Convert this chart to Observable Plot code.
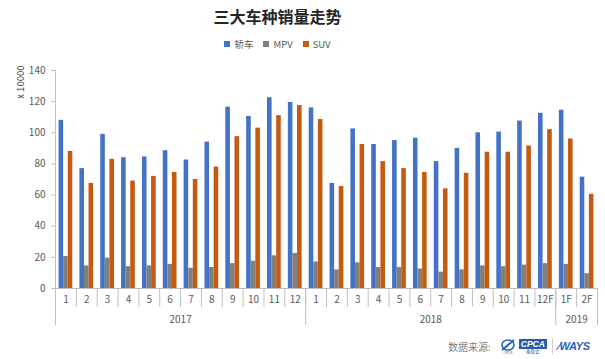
<!DOCTYPE html>
<html>
<head>
<meta charset="utf-8">
<script src="https://cdn.jsdelivr.net/npm/d3@7"></script>
<script src="https://cdn.jsdelivr.net/npm/@observablehq/plot@0.6"></script>
<style>
  body { margin:0; width:605px; height:359px; overflow:hidden; background:#fff; font-family:"Noto Sans CJK SC","Noto Sans",sans-serif; position:relative; }
  #title { height:34px; line-height:32px; text-align:center; font-size:16px; font-weight:bold; color:#262626; padding-right:50px; }
  #legend { height:20px; display:flex; justify-content:center; align-items:center; gap:10px; font-size:9.5px; color:#595959; padding-right:50px; }
  #legend span.sw { display:inline-block; width:6px; height:6px; margin-right:4px; vertical-align:middle; }
  #legend .item { display:flex; align-items:center; }
  #chart svg { display:block; }
  #footer { position:absolute; left:448px; top:337px; height:18px; display:flex; align-items:center; font-size:10px; color:#7f7f7f; }
</style>
</head>
<body>
<div id="title">三大车种销量走势</div>
<div id="legend"></div>
<div id="chart"></div>
<div id="footer">
  <span>数据来源:</span>
  <svg width="18" height="16" style="margin-left:8px" viewBox="0 0 18 16">
    <ellipse cx="9" cy="7" rx="6" ry="5" fill="none" stroke="#2a63b8" stroke-width="1.6"/>
    <path d="M3 12 L15 2" stroke="#2a63b8" stroke-width="2"/>
    <text x="9" y="15.5" font-size="3.5" fill="#2a63b8" text-anchor="middle">CPCA</text>
  </svg>
  <span style="display:inline-flex;flex-direction:column;align-items:center;margin-left:2px">
    <span style="background:#2a5caa;color:#fff;font-style:italic;font-weight:bold;font-size:8.5px;line-height:10px;padding:0 2px;font-family:'Liberation Sans',sans-serif">CPCA</span>
    <span style="font-size:4.5px;line-height:5px;color:#2a5caa">乘联会</span>
  </span>
  <span style="display:inline-block;width:1px;height:16px;background:#d0d0d0;margin:0 5px"></span>
  <span style="color:#2a63b8;font-style:italic;font-weight:bold;font-size:11px;font-family:'Liberation Sans',sans-serif;letter-spacing:-0.3px">⁄WAYS</span>
</div>
<script>
const months = ["1","2","3","4","5","6","7","8","9","10","11","12",
                "1","2","3","4","5","6","7","8","9","10","11","12F",
                "1F","2F"];
const years = ["2017","2018","2019"];
const yearCounts = [12, 12, 2];
const seriesNames = ["轿车", "MPV", "SUV"];
const seriesColors = ["#4472C4", "#808080", "#C55A11"];
const sedan = [108, 77, 99, 84, 84.5, 88.5, 82.5, 94, 116.5, 110.5, 122.5, 119.5,
               116, 67.5, 102.5, 92.5, 95, 96.5, 81.5, 90, 100, 100.5, 107.5, 112.5,
               114.5, 71.5];
const mpv   = [20.5, 14.5, 19.5, 14, 14.5, 15.5, 13, 13.5, 16, 17.5, 21, 22.5,
               17, 12, 16.5, 13.5, 13.5, 12.5, 10.5, 12, 14.5, 14, 15, 16,
               15.5, 9.5];
const suv   = [88, 67.5, 83, 69, 72, 74.5, 70, 78, 97.5, 103, 111, 117.5,
               108.5, 65.5, 92.5, 81.5, 77, 74.5, 64, 74, 87.5, 87.5, 91.5, 102,
               96, 60.5];
const yTicks = [0, 20, 40, 60, 80, 100, 120, 140];
const yLabel = "x 10000";

// legend
const legend = document.getElementById("legend");
seriesNames.forEach((n, j) => {
  const it = document.createElement("div");
  it.className = "item";
  it.innerHTML = `<span class="sw" style="background:${seriesColors[j]}"></span>${n}`;
  legend.appendChild(it);
});

// data table
const values = [sedan, mpv, suv];
const groupPad = 0.17, barW = 0.22;
const table = [];
months.forEach((m, i) => {
  values.forEach((arr, j) => {
    table.push({i, series: seriesNames[j], value: arr[i],
                x1: i + groupPad + j * barW, x2: i + groupPad + (j + 1) * barW});
  });
});

// boundaries & label positions from categories
const n = months.length;
const boundaries = d3.range(n + 1);
const mids = d3.range(n).map(i => i + 0.5);
const yearStarts = [];
let acc = 0;
yearCounts.forEach(c => { yearStarts.push(acc); acc += c; });
const yearBounds = [...yearStarts, acc];
const yearMids = yearStarts.map((s, k) => s + yearCounts[k] / 2);

const axisColor = "#BFBFBF";
const textColor = "#595959";

const chart = Plot.plot({
  width: 605,
  height: 281,
  marginTop: 16,
  marginLeft: 55,
  marginRight: 8,
  marginBottom: 47,
  style: {fontFamily: '"Noto Sans CJK SC","Noto Sans",sans-serif', fontSize: "10px", color: textColor, background: "#fff"},
  x: {type: "linear", domain: [0, n], axis: null},
  y: {domain: [0, 140], axis: null},
  color: {domain: seriesNames, range: seriesColors},
  marks: [
    Plot.rectY(table, {x1: "x1", x2: "x2", y: "value", fill: "series"}),
    Plot.ruleX([0], {y1: 0, y2: 140, stroke: axisColor}),
    Plot.axisY(yTicks, {tickSize: 4, tickPadding: 6, stroke: axisColor, fill: textColor, label: null, fontSize: 10}),
    Plot.ruleY([0], {stroke: axisColor}),
    Plot.axisX(boundaries, {tickSize: 19, tickFormat: () => "", stroke: axisColor, label: null}),
    Plot.axisX(yearBounds, {tickSize: 37, tickFormat: () => "", stroke: axisColor, label: null}),
    Plot.axisX(mids, {tickSize: 0, tickPadding: 7, tickFormat: (d) => months[Math.floor(d)], fill: textColor, label: null, fontSize: 10}),
    Plot.axisX(yearMids, {tickSize: 0, tickPadding: 27, tickFormat: (d) => years[yearMids.indexOf(d)], fill: textColor, label: null, fontSize: 10}),
    Plot.text([yLabel], {frameAnchor: "top-left", rotate: -90, textAnchor: "end", lineAnchor: "middle", dx: -35, dy: -5, fill: "#404040", fontSize: 9.5})
  ]
});
document.getElementById("chart").appendChild(chart);
</script>
</body>
</html>
